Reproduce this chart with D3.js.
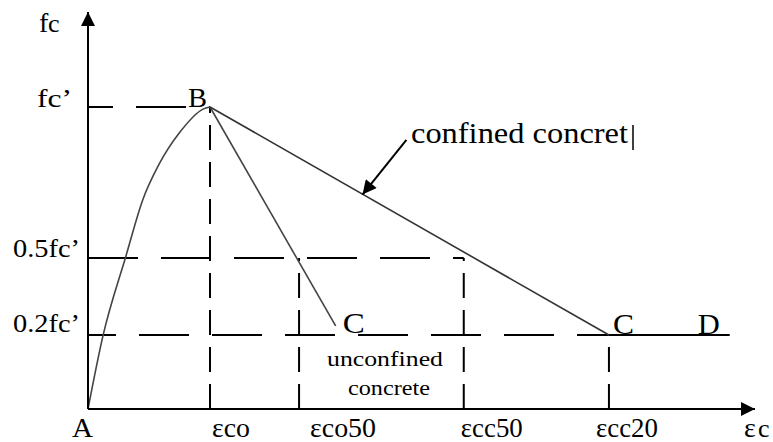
<!DOCTYPE html>
<html>
<head>
<meta charset="utf-8">
<script src="https://cdn.jsdelivr.net/npm/d3@7"></script>
<style>
  html, body { margin: 0; padding: 0; background: #fff; }
  svg { display: block; }
  text { font-family: "Liberation Serif", "DejaVu Serif", serif; fill: #000; }
</style>
</head>
<body>
<svg id="chart" width="773" height="442"></svg>
<script>
// Stress-strain sketch, values in units of fc' and eps_co

// strain positions of the guide lines
const strainVals = [1, 1.73, 3.08, 4.27];
const strainLabels = ["εco", "εco50", "εcc50", "εcc20"];
// how high each vertical guide goes (stress level)
const strainTops = [1, 0.5, 0.5, 0.245];

// stress levels of the horizontal guides
const stressVals = [1, 0.5, 0.245];
const stressLabels = ["fc’", "0.5fc’", "0.2fc’"];
// how far each horizontal guide goes (strain)
const stressEnds = [1, 3.08, 4.27];

// ascending branch A -> B
const ascending = [
  [0, 0], [0.123, 0.243], [0.31, 0.505], [0.45, 0.694],
  [0.574, 0.804], [0.754, 0.917], [0.943, 0.993], [1, 1]
];
const unconfined = [[1, 1], [2.03, 0.275]];
const confined = [[1, 1], [4.27, 0.245], [5.26, 0.245]];

const pointNames = ["A", "B", "C", "C", "D"];
const pointVals = [[0, 0], [1, 1], [2.03, 0.275], [4.27, 0.245], [5.26, 0.245]];

// arrow to the confined branch
const noteFrom = [2.61, 0.891];
const noteTo = [2.25, 0.71];

const svg = d3.select("#chart");

const x = d3.scaleLinear().domain([0, 1]).range([88, 210]);
const y = d3.scaleLinear().domain([0, 1]).range([409, 107]);

const xEnd = 755, yTop = 12;

// filled triangle heads
const defs = svg.append("defs");
defs.append("marker")
  .attr("id", "head")
  .attr("viewBox", "0 0 10 10")
  .attr("refX", 10).attr("refY", 5)
  .attr("markerWidth", 16).attr("markerHeight", 14)
  .attr("markerUnits", "userSpaceOnUse")
  .attr("orient", "auto")
  .append("path").attr("d", "M0,0 L10,5 L0,10 Z").attr("fill", "#000");

// label helper: fixed width so the stretched serif look matches
function label(txt, lx, ly, size, width) {
  const t = svg.append("text")
    .attr("x", lx).attr("y", ly)
    .style("font-size", size + "px")
    .text(txt);
  if (width) t.attr("textLength", width).attr("lengthAdjust", "spacingAndGlyphs");
  return t;
}

// horizontal dashed guides (first dash length differs per line)
const firstDash = [25, 50, 28];
stressVals.forEach((v, i) => {
  svg.append("line")
    .attr("x1", x(0)).attr("x2", x(stressEnds[i]))
    .attr("y1", y(v)).attr("y2", y(v))
    .attr("stroke", "#000").attr("stroke-width", 2)
    .attr("stroke-dasharray", "50,23")
    .attr("stroke-dashoffset", 50 - firstDash[i]);
});

// vertical dashed guides
strainVals.forEach((v, i) => {
  svg.append("line")
    .attr("x1", x(v)).attr("x2", x(v))
    .attr("y1", y(0)).attr("y2", y(strainTops[i]))
    .attr("stroke", "#000").attr("stroke-width", 2)
    .attr("stroke-dasharray", "25,12");
});

// curves
const line = d3.line().x(d => x(d[0])).y(d => y(d[1]));
svg.append("path")
  .attr("d", line.curve(d3.curveMonotoneX)(ascending))
  .attr("fill", "none").attr("stroke", "#444").attr("stroke-width", 1.6);
line.curve(d3.curveLinear);
svg.append("path")
  .attr("d", line(unconfined))
  .attr("fill", "none").attr("stroke", "#444").attr("stroke-width", 1.6);
svg.append("path")
  .attr("d", line(confined.slice(0, 2)))
  .attr("fill", "none").attr("stroke", "#333").attr("stroke-width", 1.6);
svg.append("path")
  .attr("d", line(confined.slice(1)))
  .attr("fill", "none").attr("stroke", "#000").attr("stroke-width", 2);

// axes with arrow heads
svg.append("line")
  .attr("x1", x(0)).attr("x2", xEnd)
  .attr("y1", y(0)).attr("y2", y(0))
  .attr("stroke", "#000").attr("stroke-width", 2)
  .attr("marker-end", "url(#head)");
svg.append("line")
  .attr("x1", x(0)).attr("x2", x(0))
  .attr("y1", y(0)).attr("y2", yTop)
  .attr("stroke", "#000").attr("stroke-width", 2)
  .attr("marker-end", "url(#head)");

// annotation arrow
svg.append("line")
  .attr("x1", x(noteFrom[0])).attr("y1", y(noteFrom[1]))
  .attr("x2", x(noteTo[0])).attr("y2", y(noteTo[1]))
  .attr("stroke", "#000").attr("stroke-width", 2)
  .attr("marker-end", "url(#head)");

// axis titles
label("f", 39, 32, 28);
label("c", 48, 32, 26);
label("ε", 744, 437, 28);
label("c", 758, 437, 26);

// stress labels (left side)
const stressLay = [[37, 35, 26], [13, 67, 26], [13, 67, 26]];
stressLabels.forEach((s, i) => {
  const [lx, w, sz] = stressLay[i];
  label(s, lx, y(stressVals[i]) + (i === 0 ? 0 : -1) - (i === 2 ? 2 : 0), sz, w);
});

// strain labels (under the axis)
const strainLay = [[2, 38], [11, 66], [-3, 62], [-13, 62]];
strainLabels.forEach((s, i) => {
  const [dx, w] = strainLay[i];
  label(s, x(strainVals[i]) + dx, 437, 27, w);
});

// point letters
const pointLay = [[-16, 28, 21, 27], [-22, 0, 19, 28], [7, 7, 22, 30], [4, -1, 21, 30], [-32, -1, 22, 30]];
pointNames.forEach((p, i) => {
  const [dx, dy, w, sz] = pointLay[i];
  label(p, x(pointVals[i][0]) + dx, y(pointVals[i][1]) + dy, sz, w);
});

// branch captions
label("confined concret", 411, 143, 29, 217);
svg.append("line")
  .attr("x1", 633).attr("x2", 633).attr("y1", 125).attr("y2", 150)
  .attr("stroke", "#000").attr("stroke-width", 1.5);
label("unconfined", 327, 366, 22, 116);
label("concrete", 348, 395, 22, 82);
</script>
</body>
</html>
